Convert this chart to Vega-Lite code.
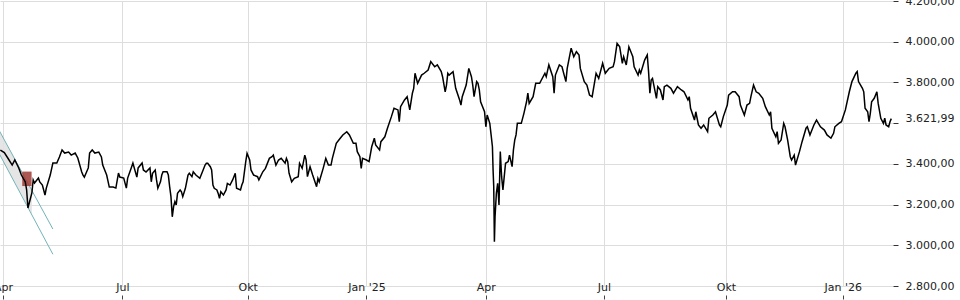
{
  "$schema": "https://vega.github.io/schema/vega-lite/v6.json",
  "width": 893,
  "height": 285,
  "autosize": {"type": "none"},
  "padding": {"top": 1, "left": 0, "right": 67, "bottom": 14},
  "background": "white",
  "config": {
    "view": {"stroke": null},
    "font": "DejaVu Sans",
    "locale": {"number": {"decimal": ",", "thousands": ".", "grouping": [3], "currency": ["", " €"]}}
  },
  "datasets": {
    "price": [
      {"date": "2024-03-30", "price": 3468}, {"date": "2024-04-02", "price": 3455}, {"date": "2024-04-05", "price": 3425},
      {"date": "2024-04-08", "price": 3394}, {"date": "2024-04-10", "price": 3419}, {"date": "2024-04-13", "price": 3380},
      {"date": "2024-04-15", "price": 3345}, {"date": "2024-04-18", "price": 3311}, {"date": "2024-04-19", "price": 3272},
      {"date": "2024-04-20", "price": 3183}, {"date": "2024-04-23", "price": 3257}, {"date": "2024-04-24", "price": 3321},
      {"date": "2024-04-25", "price": 3306}, {"date": "2024-04-28", "price": 3330}, {"date": "2024-04-29", "price": 3311},
      {"date": "2024-05-01", "price": 3296}, {"date": "2024-05-03", "price": 3247}, {"date": "2024-05-04", "price": 3281},
      {"date": "2024-05-07", "price": 3345}, {"date": "2024-05-09", "price": 3404}, {"date": "2024-05-12", "price": 3404},
      {"date": "2024-05-14", "price": 3434}, {"date": "2024-05-16", "price": 3468}, {"date": "2024-05-18", "price": 3453},
      {"date": "2024-05-21", "price": 3458}, {"date": "2024-05-23", "price": 3443}, {"date": "2024-05-26", "price": 3453},
      {"date": "2024-05-28", "price": 3429}, {"date": "2024-05-31", "price": 3360}, {"date": "2024-06-01", "price": 3345},
      {"date": "2024-06-02", "price": 3335}, {"date": "2024-06-05", "price": 3380}, {"date": "2024-06-06", "price": 3453},
      {"date": "2024-06-08", "price": 3468}, {"date": "2024-06-10", "price": 3453}, {"date": "2024-06-13", "price": 3458},
      {"date": "2024-06-15", "price": 3434}, {"date": "2024-06-16", "price": 3394}, {"date": "2024-06-19", "price": 3345},
      {"date": "2024-06-21", "price": 3286}, {"date": "2024-06-24", "price": 3286}, {"date": "2024-06-26", "price": 3281},
      {"date": "2024-06-28", "price": 3355}, {"date": "2024-06-29", "price": 3335}, {"date": "2024-07-02", "price": 3330},
      {"date": "2024-07-04", "price": 3281}, {"date": "2024-07-05", "price": 3330}, {"date": "2024-07-08", "price": 3385},
      {"date": "2024-07-09", "price": 3404}, {"date": "2024-07-12", "price": 3335}, {"date": "2024-07-13", "price": 3380},
      {"date": "2024-07-16", "price": 3404}, {"date": "2024-07-17", "price": 3370}, {"date": "2024-07-19", "price": 3360},
      {"date": "2024-07-22", "price": 3380}, {"date": "2024-07-23", "price": 3312}, {"date": "2024-07-24", "price": 3354},
      {"date": "2024-07-26", "price": 3370}, {"date": "2024-07-27", "price": 3321}, {"date": "2024-07-28", "price": 3280},
      {"date": "2024-07-30", "price": 3312}, {"date": "2024-07-31", "price": 3345}, {"date": "2024-08-01", "price": 3361},
      {"date": "2024-08-04", "price": 3361}, {"date": "2024-08-05", "price": 3345}, {"date": "2024-08-06", "price": 3288},
      {"date": "2024-08-07", "price": 3239}, {"date": "2024-08-08", "price": 3140}, {"date": "2024-08-09", "price": 3190},
      {"date": "2024-08-10", "price": 3214}, {"date": "2024-08-11", "price": 3198}, {"date": "2024-08-12", "price": 3255},
      {"date": "2024-08-14", "price": 3272}, {"date": "2024-08-15", "price": 3263}, {"date": "2024-08-16", "price": 3239},
      {"date": "2024-08-18", "price": 3280}, {"date": "2024-08-19", "price": 3312}, {"date": "2024-08-20", "price": 3345},
      {"date": "2024-08-21", "price": 3354}, {"date": "2024-08-23", "price": 3337}, {"date": "2024-08-24", "price": 3361},
      {"date": "2024-08-26", "price": 3345}, {"date": "2024-08-29", "price": 3329}, {"date": "2024-08-30", "price": 3345},
      {"date": "2024-08-31", "price": 3361}, {"date": "2024-09-02", "price": 3394}, {"date": "2024-09-03", "price": 3403},
      {"date": "2024-09-04", "price": 3403}, {"date": "2024-09-06", "price": 3386}, {"date": "2024-09-07", "price": 3370},
      {"date": "2024-09-08", "price": 3296}, {"date": "2024-09-09", "price": 3280}, {"date": "2024-09-11", "price": 3272},
      {"date": "2024-09-12", "price": 3255}, {"date": "2024-09-13", "price": 3231}, {"date": "2024-09-14", "price": 3263},
      {"date": "2024-09-16", "price": 3247}, {"date": "2024-09-18", "price": 3272}, {"date": "2024-09-19", "price": 3304},
      {"date": "2024-09-21", "price": 3296}, {"date": "2024-09-23", "price": 3321}, {"date": "2024-09-25", "price": 3354},
      {"date": "2024-09-26", "price": 3280}, {"date": "2024-09-29", "price": 3272}, {"date": "2024-09-30", "price": 3296},
      {"date": "2024-10-01", "price": 3312}, {"date": "2024-10-03", "price": 3411}, {"date": "2024-10-04", "price": 3452},
      {"date": "2024-10-06", "price": 3419}, {"date": "2024-10-07", "price": 3370}, {"date": "2024-10-09", "price": 3345},
      {"date": "2024-10-12", "price": 3337}, {"date": "2024-10-13", "price": 3321}, {"date": "2024-10-16", "price": 3361},
      {"date": "2024-10-18", "price": 3378}, {"date": "2024-10-21", "price": 3427}, {"date": "2024-10-23", "price": 3435},
      {"date": "2024-10-24", "price": 3443}, {"date": "2024-10-26", "price": 3394}, {"date": "2024-10-28", "price": 3419},
      {"date": "2024-10-30", "price": 3427}, {"date": "2024-11-02", "price": 3403}, {"date": "2024-11-03", "price": 3427},
      {"date": "2024-11-04", "price": 3411}, {"date": "2024-11-05", "price": 3354}, {"date": "2024-11-07", "price": 3312},
      {"date": "2024-11-09", "price": 3329}, {"date": "2024-11-12", "price": 3337}, {"date": "2024-11-13", "price": 3403},
      {"date": "2024-11-15", "price": 3378}, {"date": "2024-11-17", "price": 3443}, {"date": "2024-11-18", "price": 3419},
      {"date": "2024-11-19", "price": 3337}, {"date": "2024-11-21", "price": 3386}, {"date": "2024-11-23", "price": 3345},
      {"date": "2024-11-26", "price": 3288}, {"date": "2024-11-27", "price": 3329}, {"date": "2024-11-28", "price": 3312},
      {"date": "2024-12-01", "price": 3378}, {"date": "2024-12-03", "price": 3427}, {"date": "2024-12-05", "price": 3394},
      {"date": "2024-12-07", "price": 3394}, {"date": "2024-12-08", "price": 3427}, {"date": "2024-12-11", "price": 3501},
      {"date": "2024-12-14", "price": 3526}, {"date": "2024-12-16", "price": 3542}, {"date": "2024-12-19", "price": 3558},
      {"date": "2024-12-21", "price": 3542}, {"date": "2024-12-24", "price": 3501}, {"date": "2024-12-26", "price": 3501},
      {"date": "2024-12-27", "price": 3460}, {"date": "2024-12-29", "price": 3435}, {"date": "2024-12-30", "price": 3378},
      {"date": "2024-12-31", "price": 3427}, {"date": "2025-01-03", "price": 3419}, {"date": "2025-01-05", "price": 3411},
      {"date": "2025-01-07", "price": 3484}, {"date": "2025-01-09", "price": 3526}, {"date": "2025-01-10", "price": 3493},
      {"date": "2025-01-13", "price": 3468}, {"date": "2025-01-14", "price": 3509}, {"date": "2025-01-17", "price": 3533},
      {"date": "2025-01-19", "price": 3575}, {"date": "2025-01-22", "price": 3632}, {"date": "2025-01-24", "price": 3673},
      {"date": "2025-01-27", "price": 3665}, {"date": "2025-01-28", "price": 3607}, {"date": "2025-01-29", "price": 3681},
      {"date": "2025-02-01", "price": 3714}, {"date": "2025-02-03", "price": 3730}, {"date": "2025-02-05", "price": 3665},
      {"date": "2025-02-07", "price": 3747}, {"date": "2025-02-08", "price": 3771}, {"date": "2025-02-09", "price": 3845},
      {"date": "2025-02-11", "price": 3796}, {"date": "2025-02-14", "price": 3836}, {"date": "2025-02-16", "price": 3845},
      {"date": "2025-02-19", "price": 3861}, {"date": "2025-02-21", "price": 3902}, {"date": "2025-02-24", "price": 3877},
      {"date": "2025-02-26", "price": 3886}, {"date": "2025-03-01", "price": 3853}, {"date": "2025-03-02", "price": 3828},
      {"date": "2025-03-04", "price": 3754}, {"date": "2025-03-05", "price": 3787}, {"date": "2025-03-06", "price": 3845},
      {"date": "2025-03-07", "price": 3836}, {"date": "2025-03-10", "price": 3853}, {"date": "2025-03-11", "price": 3812},
      {"date": "2025-03-12", "price": 3771}, {"date": "2025-03-15", "price": 3714}, {"date": "2025-03-16", "price": 3689},
      {"date": "2025-03-17", "price": 3730}, {"date": "2025-03-20", "price": 3787}, {"date": "2025-03-22", "price": 3869},
      {"date": "2025-03-24", "price": 3828}, {"date": "2025-03-25", "price": 3787}, {"date": "2025-03-26", "price": 3730},
      {"date": "2025-03-28", "price": 3804}, {"date": "2025-03-29", "price": 3796}, {"date": "2025-03-30", "price": 3763},
      {"date": "2025-03-31", "price": 3705}, {"date": "2025-04-03", "price": 3656}, {"date": "2025-04-04", "price": 3582},
      {"date": "2025-04-05", "price": 3640}, {"date": "2025-04-07", "price": 3599}, {"date": "2025-04-08", "price": 3542},
      {"date": "2025-04-09", "price": 3484}, {"date": "2025-04-09T12:00Z", "price": 3370}, {"date": "2025-04-10", "price": 3288},
      {"date": "2025-04-10T12:00Z", "price": 3018}, {"date": "2025-04-11", "price": 3140}, {"date": "2025-04-12", "price": 3255},
      {"date": "2025-04-13", "price": 3304}, {"date": "2025-04-14", "price": 3198}, {"date": "2025-04-15", "price": 3460},
      {"date": "2025-04-16", "price": 3337}, {"date": "2025-04-17", "price": 3272}, {"date": "2025-04-18", "price": 3337},
      {"date": "2025-04-19", "price": 3403}, {"date": "2025-04-21", "price": 3411}, {"date": "2025-04-22", "price": 3443},
      {"date": "2025-04-24", "price": 3386}, {"date": "2025-04-25", "price": 3468}, {"date": "2025-04-26", "price": 3517},
      {"date": "2025-04-27", "price": 3542}, {"date": "2025-04-28", "price": 3599}, {"date": "2025-05-01", "price": 3599},
      {"date": "2025-05-03", "price": 3648}, {"date": "2025-05-05", "price": 3705}, {"date": "2025-05-06", "price": 3747},
      {"date": "2025-05-07", "price": 3697}, {"date": "2025-05-10", "price": 3730}, {"date": "2025-05-12", "price": 3796},
      {"date": "2025-05-15", "price": 3796}, {"date": "2025-05-19", "price": 3845}, {"date": "2025-05-20", "price": 3828},
      {"date": "2025-05-22", "price": 3886}, {"date": "2025-05-25", "price": 3828}, {"date": "2025-05-26", "price": 3747},
      {"date": "2025-05-27", "price": 3836}, {"date": "2025-05-30", "price": 3886}, {"date": "2025-06-01", "price": 3877},
      {"date": "2025-06-04", "price": 3804}, {"date": "2025-06-05", "price": 3869}, {"date": "2025-06-08", "price": 3968},
      {"date": "2025-06-10", "price": 3926}, {"date": "2025-06-12", "price": 3951}, {"date": "2025-06-14", "price": 3935},
      {"date": "2025-06-15", "price": 3869}, {"date": "2025-06-18", "price": 3804}, {"date": "2025-06-20", "price": 3787},
      {"date": "2025-06-22", "price": 3738}, {"date": "2025-06-24", "price": 3730}, {"date": "2025-06-27", "price": 3845},
      {"date": "2025-06-29", "price": 3820}, {"date": "2025-07-02", "price": 3894}, {"date": "2025-07-04", "price": 3845},
      {"date": "2025-07-07", "price": 3869}, {"date": "2025-07-10", "price": 3877}, {"date": "2025-07-11", "price": 3902},
      {"date": "2025-07-13", "price": 3992}, {"date": "2025-07-15", "price": 3975}, {"date": "2025-07-17", "price": 3894},
      {"date": "2025-07-18", "price": 3926}, {"date": "2025-07-20", "price": 3886}, {"date": "2025-07-22", "price": 3975},
      {"date": "2025-07-25", "price": 3926}, {"date": "2025-07-26", "price": 3877}, {"date": "2025-07-29", "price": 3836},
      {"date": "2025-07-30", "price": 3861}, {"date": "2025-07-31", "price": 3845}, {"date": "2025-08-03", "price": 3910},
      {"date": "2025-08-05", "price": 3935}, {"date": "2025-08-06", "price": 3853}, {"date": "2025-08-07", "price": 3747},
      {"date": "2025-08-08", "price": 3812}, {"date": "2025-08-09", "price": 3820}, {"date": "2025-08-10", "price": 3787},
      {"date": "2025-08-12", "price": 3722}, {"date": "2025-08-13", "price": 3779}, {"date": "2025-08-15", "price": 3763},
      {"date": "2025-08-17", "price": 3714}, {"date": "2025-08-18", "price": 3779}, {"date": "2025-08-20", "price": 3787},
      {"date": "2025-08-23", "price": 3771}, {"date": "2025-08-25", "price": 3747}, {"date": "2025-08-28", "price": 3779},
      {"date": "2025-08-31", "price": 3763}, {"date": "2025-09-02", "price": 3754}, {"date": "2025-09-05", "price": 3714},
      {"date": "2025-09-06", "price": 3730}, {"date": "2025-09-07", "price": 3673}, {"date": "2025-09-10", "price": 3615},
      {"date": "2025-09-11", "price": 3656}, {"date": "2025-09-13", "price": 3591}, {"date": "2025-09-15", "price": 3575},
      {"date": "2025-09-17", "price": 3591}, {"date": "2025-09-20", "price": 3558}, {"date": "2025-09-21", "price": 3624},
      {"date": "2025-09-24", "price": 3640}, {"date": "2025-09-26", "price": 3656}, {"date": "2025-09-29", "price": 3591},
      {"date": "2025-09-30", "price": 3582}, {"date": "2025-10-02", "price": 3632}, {"date": "2025-10-05", "price": 3689},
      {"date": "2025-10-06", "price": 3738}, {"date": "2025-10-09", "price": 3754}, {"date": "2025-10-11", "price": 3754},
      {"date": "2025-10-14", "price": 3730}, {"date": "2025-10-15", "price": 3689}, {"date": "2025-10-18", "price": 3640},
      {"date": "2025-10-20", "price": 3689}, {"date": "2025-10-22", "price": 3697}, {"date": "2025-10-23", "price": 3730},
      {"date": "2025-10-25", "price": 3787}, {"date": "2025-10-27", "price": 3754}, {"date": "2025-10-29", "price": 3747},
      {"date": "2025-11-01", "price": 3722}, {"date": "2025-11-03", "price": 3681}, {"date": "2025-11-06", "price": 3640},
      {"date": "2025-11-07", "price": 3656}, {"date": "2025-11-08", "price": 3575}, {"date": "2025-11-11", "price": 3533},
      {"date": "2025-11-12", "price": 3558}, {"date": "2025-11-13", "price": 3501}, {"date": "2025-11-15", "price": 3517},
      {"date": "2025-11-17", "price": 3599}, {"date": "2025-11-18", "price": 3582}, {"date": "2025-11-20", "price": 3517},
      {"date": "2025-11-22", "price": 3435}, {"date": "2025-11-23", "price": 3419}, {"date": "2025-11-25", "price": 3443},
      {"date": "2025-11-26", "price": 3394}, {"date": "2025-11-29", "price": 3460}, {"date": "2025-12-01", "price": 3509},
      {"date": "2025-12-04", "price": 3575}, {"date": "2025-12-05", "price": 3582}, {"date": "2025-12-07", "price": 3542},
      {"date": "2025-12-10", "price": 3591}, {"date": "2025-12-12", "price": 3615}, {"date": "2025-12-15", "price": 3582},
      {"date": "2025-12-18", "price": 3566}, {"date": "2025-12-20", "price": 3542}, {"date": "2025-12-23", "price": 3526},
      {"date": "2025-12-25", "price": 3550}, {"date": "2025-12-26", "price": 3582}, {"date": "2025-12-29", "price": 3599},
      {"date": "2025-12-31", "price": 3607}, {"date": "2026-01-03", "price": 3665}, {"date": "2026-01-06", "price": 3754},
      {"date": "2026-01-08", "price": 3804}, {"date": "2026-01-11", "price": 3845}, {"date": "2026-01-12", "price": 3853},
      {"date": "2026-01-13", "price": 3804}, {"date": "2026-01-16", "price": 3771}, {"date": "2026-01-17", "price": 3754},
      {"date": "2026-01-18", "price": 3673}, {"date": "2026-01-20", "price": 3656}, {"date": "2026-01-21", "price": 3607},
      {"date": "2026-01-22", "price": 3648}, {"date": "2026-01-23", "price": 3705}, {"date": "2026-01-25", "price": 3722},
      {"date": "2026-01-27", "price": 3754}, {"date": "2026-01-28", "price": 3697}, {"date": "2026-01-30", "price": 3624},
      {"date": "2026-02-01", "price": 3599}, {"date": "2026-02-02", "price": 3624}, {"date": "2026-02-03", "price": 3591},
      {"date": "2026-02-05", "price": 3582}, {"date": "2026-02-06", "price": 3607}, {"date": "2026-02-07", "price": 3621.99}
    ],
    "channel": [
      {"date": "2024-03-22", "price": 3648, "edge": "upper"},
      {"date": "2024-05-09", "price": 3080, "edge": "upper"},
      {"date": "2024-03-22", "price": 3536, "edge": "lower"},
      {"date": "2024-05-09", "price": 2956, "edge": "lower"}
    ],
    "band": [
      {"date": "2024-03-22", "price": 3648, "price2": 3536},
      {"date": "2024-04-23", "price": 3272, "price2": 3152}
    ],
    "marker": [
      {"date": "2024-04-15T16:00Z", "date2": "2024-04-22T19:00Z", "price": 3362, "price2": 3291}
    ]
  },
  "encoding": {
    "x": {
      "field": "date", "type": "temporal",
      "scale": {"type": "utc", "domain": [{"year": 2024, "month": 3, "date": 29, "hours": 17, "utc": true}, {"year": 2026, "month": 2, "date": 8, "hours": 7, "utc": true}]},
      "axis": {
        "title": null,
        "values": [
          {"year": 2024, "month": 4, "date": 1, "utc": true}, {"year": 2024, "month": 7, "date": 1, "utc": true},
          {"year": 2024, "month": 10, "date": 4, "hours": 12, "utc": true}, {"year": 2025, "month": 1, "date": 3, "utc": true},
          {"year": 2025, "month": 4, "date": 4, "utc": true}, {"year": 2025, "month": 7, "date": 3, "utc": true},
          {"year": 2025, "month": 10, "date": 4, "utc": true}, {"year": 2026, "month": 1, "date": 1, "utc": true}
        ],
        "labelExpr": "utcmonth(datum.value) == 0 ? \"Jan '\" + utcFormat(datum.value, '%y') : (utcmonth(datum.value) == 3 ? 'Apr' : (utcmonth(datum.value) == 6 ? 'Jul' : 'Okt'))",
        "grid": true, "gridColor": "#dddddd", "gridWidth": 1,
        "domain": false,
        "ticks": true, "tickColor": "#444444", "tickSize": 4,
        "offset": 9, "labelPadding": -12, "labelBaseline": "middle",
        "labelFont": "DejaVu Sans", "labelFontSize": 11, "labelColor": "#222222",
        "labelFlush": false, "labelOverlap": false, "labelBound": false
      }
    },
    "y": {
      "field": "price", "type": "quantitative",
      "scale": {"domain": [2800, 4200], "nice": false, "zero": false},
      "axis": {
        "title": null, "orient": "right",
        "values": [2800, 3000, 3200, 3400, 3600, 3621.99, 3800, 4000, 4200],
        "format": ",.2f",
        "labelExpr": "datum.value == 3600 ? '' : datum.label",
        "grid": true, "gridColor": "#dddddd", "gridWidth": 1,
        "gridOpacity": {"condition": {"test": "datum.value == 3621.99", "value": 0}, "value": 1},
        "tickOpacity": {"condition": {"test": "datum.value == 3621.99", "value": 0}, "value": 1},
        "domain": false,
        "tickColor": "#333333", "tickSize": 5, "labelPadding": 7,
        "labelFont": "DejaVu Sans", "labelFontSize": 11, "labelColor": "#222222",
        "labelFlush": false, "labelOverlap": false, "labelBound": false
      }
    }
  },
  "layer": [
    {
      "data": {"name": "band"},
      "mark": {"type": "area", "color": "#e2e2e2", "opacity": 0.9, "clip": true},
      "encoding": {"y2": {"field": "price2"}}
    },
    {
      "data": {"name": "channel"},
      "mark": {"type": "line", "color": "#72b3b8", "strokeWidth": 1, "clip": true},
      "encoding": {"detail": {"field": "edge", "type": "nominal"}}
    },
    {
      "data": {"name": "marker"},
      "mark": {"type": "rect", "color": "#9e3a34", "opacity": 0.85, "clip": true},
      "encoding": {"x2": {"field": "date2"}, "y2": {"field": "price2"}}
    },
    {
      "data": {"name": "price"},
      "mark": {"type": "line", "color": "#000000", "strokeWidth": 1.5, "clip": true},
      "encoding": {}
    }
  ]
}
